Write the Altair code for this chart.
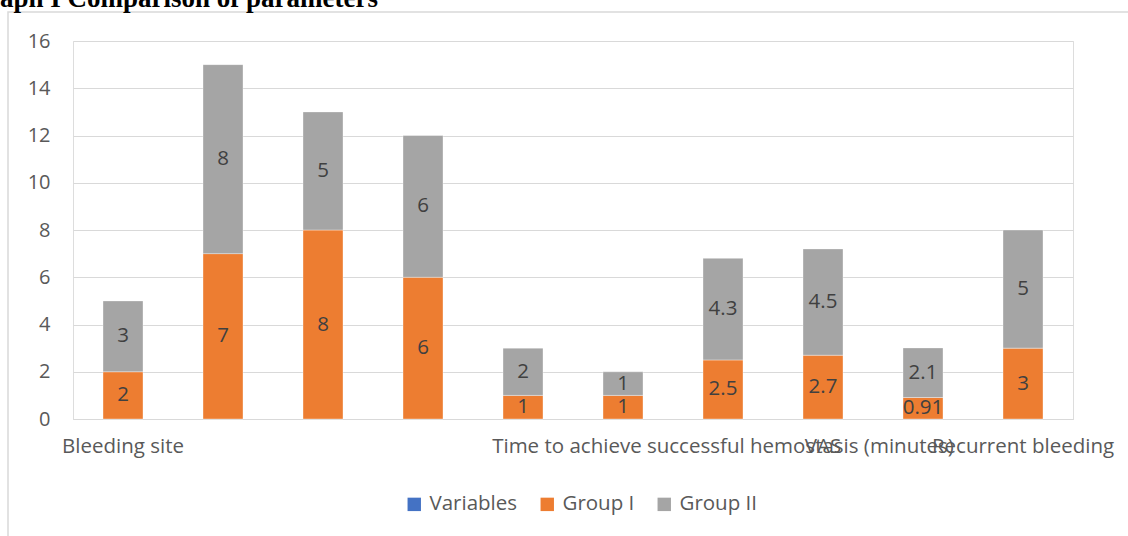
import altair as alt
import pandas as pd

# ---- data ----
category_labels = ["Bleeding site", "", "", "", "", "",
                   "Time to achieve successful hemostasis (minutes)", "VAS", "", "Recurrent bleeding"]
group1 = [2, 7, 8, 6, 1, 1, 2.5, 2.7, 0.91, 3]
group2 = [3, 8, 5, 6, 2, 1, 4.3, 4.5, 2.1, 5]
series = ["Variables", "Group I", "Group II"]
colors = ["#4472C4", "#ED7D31", "#A5A5A5"]
y_ticks = [0, 2, 4, 6, 8, 10, 12, 14, 16]
title_text = "Graph I Comparison of parameters"

rows = []
for i, (a, b) in enumerate(zip(group1, group2)):
    rows.append({"idx": i, "series": "Group I", "order": 1, "value": a})
    rows.append({"idx": i, "series": "Group II", "order": 2, "value": b})
df = pd.DataFrame(rows)

FONT = "Open Sans"
label_js = "[" + ",".join('"%s"' % s for s in category_labels) + "]"

x_enc = alt.X("idx:O",
              scale=alt.Scale(paddingInner=0.6, paddingOuter=0.3),
              axis=alt.Axis(title=None, labelExpr=label_js + "[datum.value]",
                            labelAngle=0, ticks=False, labelPadding=17,
                            labelOverlap=False, labelLimit=0, labelFont=FONT,
                            labelFontSize=20.5, labelColor="#595959",
                            domainColor="#d9d9d9", grid=False))

base = alt.Chart(df).transform_stack(
    stack="value", groupby=["idx"], as_=["v0", "v1"],
    sort=[alt.SortField("order", order="ascending")]
).transform_calculate(mid="(datum.v0 + datum.v1) / 2")

bars = base.mark_bar(stroke="#ffffff", strokeWidth=0.6, strokeOpacity=0.6).encode(
    x=x_enc,
    y=alt.Y("v0:Q", scale=alt.Scale(domain=[0, 16], nice=False),
            axis=alt.Axis(title=None, values=y_ticks, ticks=False, domain=False,
                          labelPadding=23, labelFont=FONT, labelFontSize=20,
                          labelColor="#595959", gridColor="#d9d9d9", gridWidth=1)),
    y2="v1:Q",
    color=alt.Color("series:N", scale=alt.Scale(domain=series, range=colors),
                    legend=alt.Legend(title=None, orient="none", direction="horizontal",
                                      legendX=331, legendY=453, symbolType="square",
                                      symbolSize=180, symbolStrokeWidth=0,
                                      labelFont=FONT, labelFontSize=20.5,
                                      labelColor="#595959", labelOffset=5,
                                      columnPadding=19)),
)

texts = base.mark_text(font=FONT, fontSize=20.5, color="#404040").encode(
    x=alt.X("idx:O"),
    y=alt.Y("mid:Q"),
    text=alt.Text("value:Q", format="~g"),
)

frame = alt.Chart(pd.DataFrame({"a": [0]})).mark_rect(
    fillOpacity=0, stroke="#d9d9d9", strokeWidth=1.5
).encode(x=alt.value(-65), x2=alt.value(1070), y=alt.value(-29), y2=alt.value(510))

title = alt.Chart(pd.DataFrame({"t": [title_text]})).mark_text(
    font="Liberation Serif", fontWeight="bold", fontSize=27, color="#000000",
    align="left", baseline="alphabetic"
).encode(x=alt.value(-106), y=alt.value(-34), text="t:N")

chart = alt.layer(frame, bars, texts, title).properties(
    width=1000, height=378,
    autosize=alt.AutoSizeParams(type="none"),
    padding={"left": 73, "top": 41, "right": 55, "bottom": 117},
).configure_view(stroke=None).configure(background="#ffffff")

chart.save("out.html", embed_options={"renderer": "svg", "actions": False})
